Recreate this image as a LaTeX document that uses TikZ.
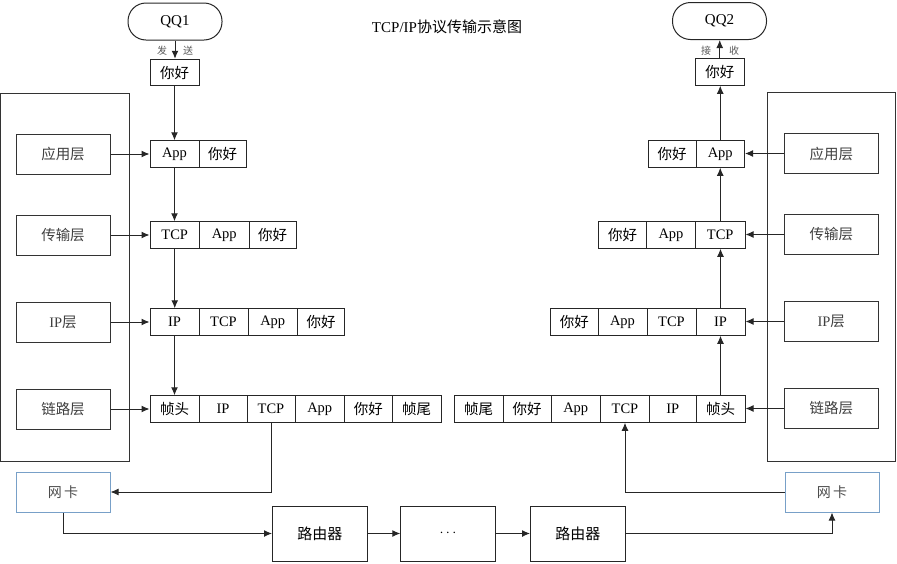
\documentclass[tikz,border=0pt]{standalone}
\usepackage{fontspec}
\setmainfont{Liberation Serif}
\newfontfamily\cjk[Scale=1.0]{Noto Sans CJK SC}
\newcommand\zh[1]{{\cjk #1}}
\usetikzlibrary{arrows.meta}
\begin{document}
\begin{tikzpicture}[x=1pt,y=-1pt,
  arr/.style={draw=black!85, line width=1pt, -{Latex[length=8pt,width=7pt]}},
  cell/.style={draw=black!85, line width=1pt, minimum height=26.5pt, inner sep=0pt, font=\fontsize{14.5}{16}\selectfont, text=black},
  layer/.style={draw=black!80, line width=1pt, minimum width=94pt, minimum height=40pt, inner sep=0pt, font=\fontsize{14.5}{16}\selectfont, text=black!75},
  outer/.style={draw=black!80, line width=1pt, inner sep=0pt},
  nic/.style={draw={rgb,255:red,120;green,160;blue,200}, line width=1pt, minimum width=94pt, minimum height=40pt, inner sep=0pt, font=\fontsize{14}{16}\selectfont, text=black!70},
  router/.style={draw=black!85, line width=1pt, minimum width=94.5pt, minimum height=55pt, inner sep=0pt, font=\fontsize{15}{17}\selectfont, text=black},
  pill/.style={draw=black!85, line width=1pt, rounded corners=18pt, minimum width=94pt, minimum height=37pt, inner sep=0pt, font=\fontsize{15}{17}\selectfont},
  small/.style={font=\fontsize{10}{11}\selectfont, text=black!65, inner sep=0pt}
]
\useasboundingbox (0,0) rectangle (897,563);

% title
\node[font=\fontsize{15}{17}\selectfont, inner sep=0pt] (title) at (447,27) {TCP/IP\zh{协议传输示意图}};

% QQ pills
\node[pill] (qq1) at (175,21.5) {QQ1};
\node[pill] (qq2) at (719.5,21) {QQ2};
\node[small] (fa) at (162,51) {\zh{发}};
\node[small] (song) at (188,51) {\zh{送}};
\node[small] (jie) at (706,51) {\zh{接}};
\node[small] (shou) at (734,51) {\zh{收}};

% outer boxes
\node[outer, minimum width=128.5pt, minimum height=368pt] (lout) at (64.75,277) {};
\node[outer, minimum width=128pt, minimum height=369pt] (rout) at (831,276.5) {};

% layer boxes left
\node[layer] (ll1) at (63,154) {\zh{应用层}};
\node[layer] (ll2) at (63,235) {\zh{传输层}};
\node[layer] (ll3) at (63,322) {IP\zh{层}};
\node[layer] (ll4) at (63,409) {\zh{链路层}};
% layer boxes right
\node[layer] (rl1) at (831.25,153.5) {\zh{应用层}};
\node[layer] (rl2) at (831.25,234.5) {\zh{传输层}};
\node[layer] (rl3) at (831.25,321.5) {IP\zh{层}};
\node[layer] (rl4) at (831.25,408.5) {\zh{链路层}};

% left cells
\node[cell, minimum width=49pt] (ltop) at (174.5,72.5) {\zh{你好}};
\node[cell, minimum width=49pt] (la1) at (174.5,154) {App};
\node[cell, minimum width=47pt] (la2) at (222.5,154) {\zh{你好}};
\node[cell, minimum width=49.5pt] (lt1) at (174.75,235) {TCP};
\node[cell, minimum width=49.5pt] (lt2) at (224.25,235) {App};
\node[cell, minimum width=47pt] (lt3) at (272.5,235) {\zh{你好}};
\node[cell, minimum width=49pt] (li1) at (174.5,322) {IP};
\node[cell, minimum width=49pt] (li2) at (223.5,322) {TCP};
\node[cell, minimum width=49.5pt] (li3) at (272.75,322) {App};
\node[cell, minimum width=47pt] (li4) at (321,322) {\zh{你好}};
\node[cell, minimum width=49pt] (lk1) at (174.5,409) {\zh{帧头}};
\node[cell, minimum width=48pt] (lk2) at (223,409) {IP};
\node[cell, minimum width=48pt] (lk3) at (271,409) {TCP};
\node[cell, minimum width=49.5pt] (lk4) at (319.75,409) {App};
\node[cell, minimum width=47.5pt] (lk5) at (368.25,409) {\zh{你好}};
\node[cell, minimum width=49pt] (lk6) at (416.5,409) {\zh{帧尾}};

% right cells
\node[cell, minimum width=49.5pt] (rtop) at (719.75,72) {\zh{你好}};
\node[cell, minimum width=48pt] (ra2) at (672,154) {\zh{你好}};
\node[cell, minimum width=48.5pt] (ra1) at (720.25,154) {App};
\node[cell, minimum width=48pt] (rt3) at (622.5,235) {\zh{你好}};
\node[cell, minimum width=49pt] (rt2) at (671,235) {App};
\node[cell, minimum width=49.5pt] (rt1) at (720.25,235) {TCP};
\node[cell, minimum width=47.5pt] (ri4) at (574.25,322) {\zh{你好}};
\node[cell, minimum width=49pt] (ri3) at (622.5,322) {App};
\node[cell, minimum width=49pt] (ri2) at (671.5,322) {TCP};
\node[cell, minimum width=49pt] (ri1) at (720.5,322) {IP};
\node[cell, minimum width=49pt] (rk6) at (478.5,409) {\zh{帧尾}};
\node[cell, minimum width=48pt] (rk5) at (527,409) {\zh{你好}};
\node[cell, minimum width=49.5pt] (rk4) at (575.75,409) {App};
\node[cell, minimum width=49pt] (rk3) at (625,409) {TCP};
\node[cell, minimum width=46.5pt] (rk2) at (672.75,409) {IP};
\node[cell, minimum width=49pt] (rk1) at (720.5,409) {\zh{帧头}};

% network
\node[nic] (nic1) at (63,492) {\zh{网\,卡}};
\node[nic] (nic2) at (832,492) {\zh{网\,卡}};
\node[router] (r1) at (319.75,533.5) {\zh{路由器}};
\node[router] (dots) at (448,533.5) {$\cdots$};
\node[router] (r2) at (577.75,533.5) {\zh{路由器}};

% vertical arrows left
\draw[arr] (qq1.south) -- (qq1.south |- ltop.north);
\draw[arr] (ltop.south) -- (ltop.south |- la1.north);
\draw[arr] (la1.south) -- (la1.south |- lt1.north);
\draw[arr] (lt1.south) -- (lt1.south |- li1.north);
\draw[arr] (li1.south) -- (li1.south |- lk1.north);
% vertical arrows right
\draw[arr] (rtop.north) -- (rtop.north |- qq2.south);
\draw[arr] (ra1.north) -- (ra1.north |- rtop.south);
\draw[arr] (rt1.north) -- (rt1.north |- ra1.south);
\draw[arr] (ri1.north) -- (ri1.north |- rt1.south);
\draw[arr] (rk1.north) -- (rk1.north |- ri1.south);

% layer arrows
\draw[arr] (ll1.east) -- (ll1.east -| la1.west);
\draw[arr] (ll2.east) -- (ll2.east -| lt1.west);
\draw[arr] (ll3.east) -- (ll3.east -| li1.west);
\draw[arr] (ll4.east) -- (ll4.east -| lk1.west);
\draw[arr] (rl1.west) -- (rl1.west -| ra1.east);
\draw[arr] (rl2.west) -- (rl2.west -| rt1.east);
\draw[arr] (rl3.west) -- (rl3.west -| ri1.east);
\draw[arr] (rl4.west) -- (rl4.west -| rk1.east);

% network path
\draw[arr] (lk3.south) |- (nic1.east);
\draw[arr] (nic1.south) |- (r1.west);
\draw[arr] (r1.east) -- (dots.west);
\draw[arr] (dots.east) -- (r2.west);
\draw[arr] (r2.east) -| (nic2.south);
\draw[arr] (nic2.west) -| (rk3.south);
\end{tikzpicture}
\end{document}
